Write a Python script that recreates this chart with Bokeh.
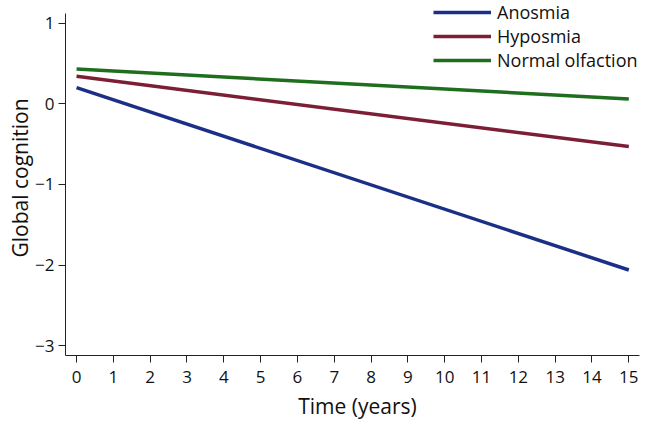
from bokeh.plotting import figure
from bokeh.models import Range1d, FixedTicker, Legend, LegendItem
from bokeh.embed import file_html
from bokeh.resources import INLINE

# Data
years = [0, 15]
anosmia = [0.20, -2.06]
hyposmia = [0.34, -0.53]
normal_olfaction = [0.43, 0.06]

series_names = ["Anosmia", "Hyposmia", "Normal olfaction"]
series_colors = ["#1a2f85", "#7d1f34", "#1e6e1e"]

x_ticks = list(range(0, 16))
y_ticks = [-3, -2, -1, 0, 1]
y_tick_labels = ["\u22123", "\u22122", "\u22121", "0", "1"]
x_axis_extent = (-0.3, 15.29)
y_axis_extent = (-3.12, 1.12)

FONT = "Open Sans"

# frame spans the whole figure top/right so the legend is not clipped;
# the axis lines are limited to the reference's extent with `bounds`
p = figure(width=649, height=422, output_backend="svg", toolbar_location=None,
           x_range=Range1d(-0.3, 15.562), y_range=Range1d(-3.12, 1.28),
           min_border_left=65, min_border_right=0, min_border_top=0,
           min_border_bottom=65)
p.outline_line_color = None
p.grid.visible = False
p.background_fill_color = "white"
p.border_fill_color = "white"

renderers = []
for ys, col in zip([anosmia, hyposmia, normal_olfaction], series_colors):
    r = p.line(years, ys, line_color=col, line_width=3.5)
    renderers.append(r)

# Axes
p.xaxis.ticker = FixedTicker(ticks=x_ticks)
p.yaxis.ticker = FixedTicker(ticks=y_ticks)
p.xaxis.bounds = x_axis_extent
p.yaxis.bounds = y_axis_extent
p.yaxis.major_label_overrides = {t: l for t, l in zip(y_ticks, y_tick_labels)}
p.xaxis.axis_label = "Time (years)"
p.yaxis.axis_label = "Global cognition"
for ax in (p.xaxis, p.yaxis):
    ax.axis_line_color = "#222222"
    ax.axis_line_width = 1
    ax.major_tick_line_color = "#222222"
    ax.major_tick_out = 7
    ax.major_tick_in = 0
    ax.minor_tick_line_color = None
    ax.major_label_text_font = FONT
    ax.major_label_text_font_size = "17px"
    ax.major_label_text_color = "#111111"
    ax.axis_label_text_font = FONT
    ax.axis_label_text_font_style = "normal"
    ax.axis_label_text_color = "#111111"
    ax.axis_label_text_font_size = "21px"
p.xaxis.major_label_standoff = 8
p.xaxis.axis_label_standoff = 6
p.yaxis.major_label_standoff = 4
p.yaxis.axis_label_standoff = -2

legend = Legend(items=[LegendItem(label=n, renderers=[r]) for n, r in zip(series_names, renderers)],
                location=(368, 283))
legend.border_line_color = None
legend.background_fill_alpha = 0
legend.padding = 0
legend.margin = 0
legend.spacing = -4
legend.glyph_width = 58
legend.glyph_height = 20
legend.label_height = 20
legend.label_standoff = 6
legend.label_text_font = FONT
legend.label_text_font_size = "18px"
legend.label_text_color = "#111111"
p.add_layout(legend, "center")

open("out.html", "w").write(file_html(p, INLINE))
